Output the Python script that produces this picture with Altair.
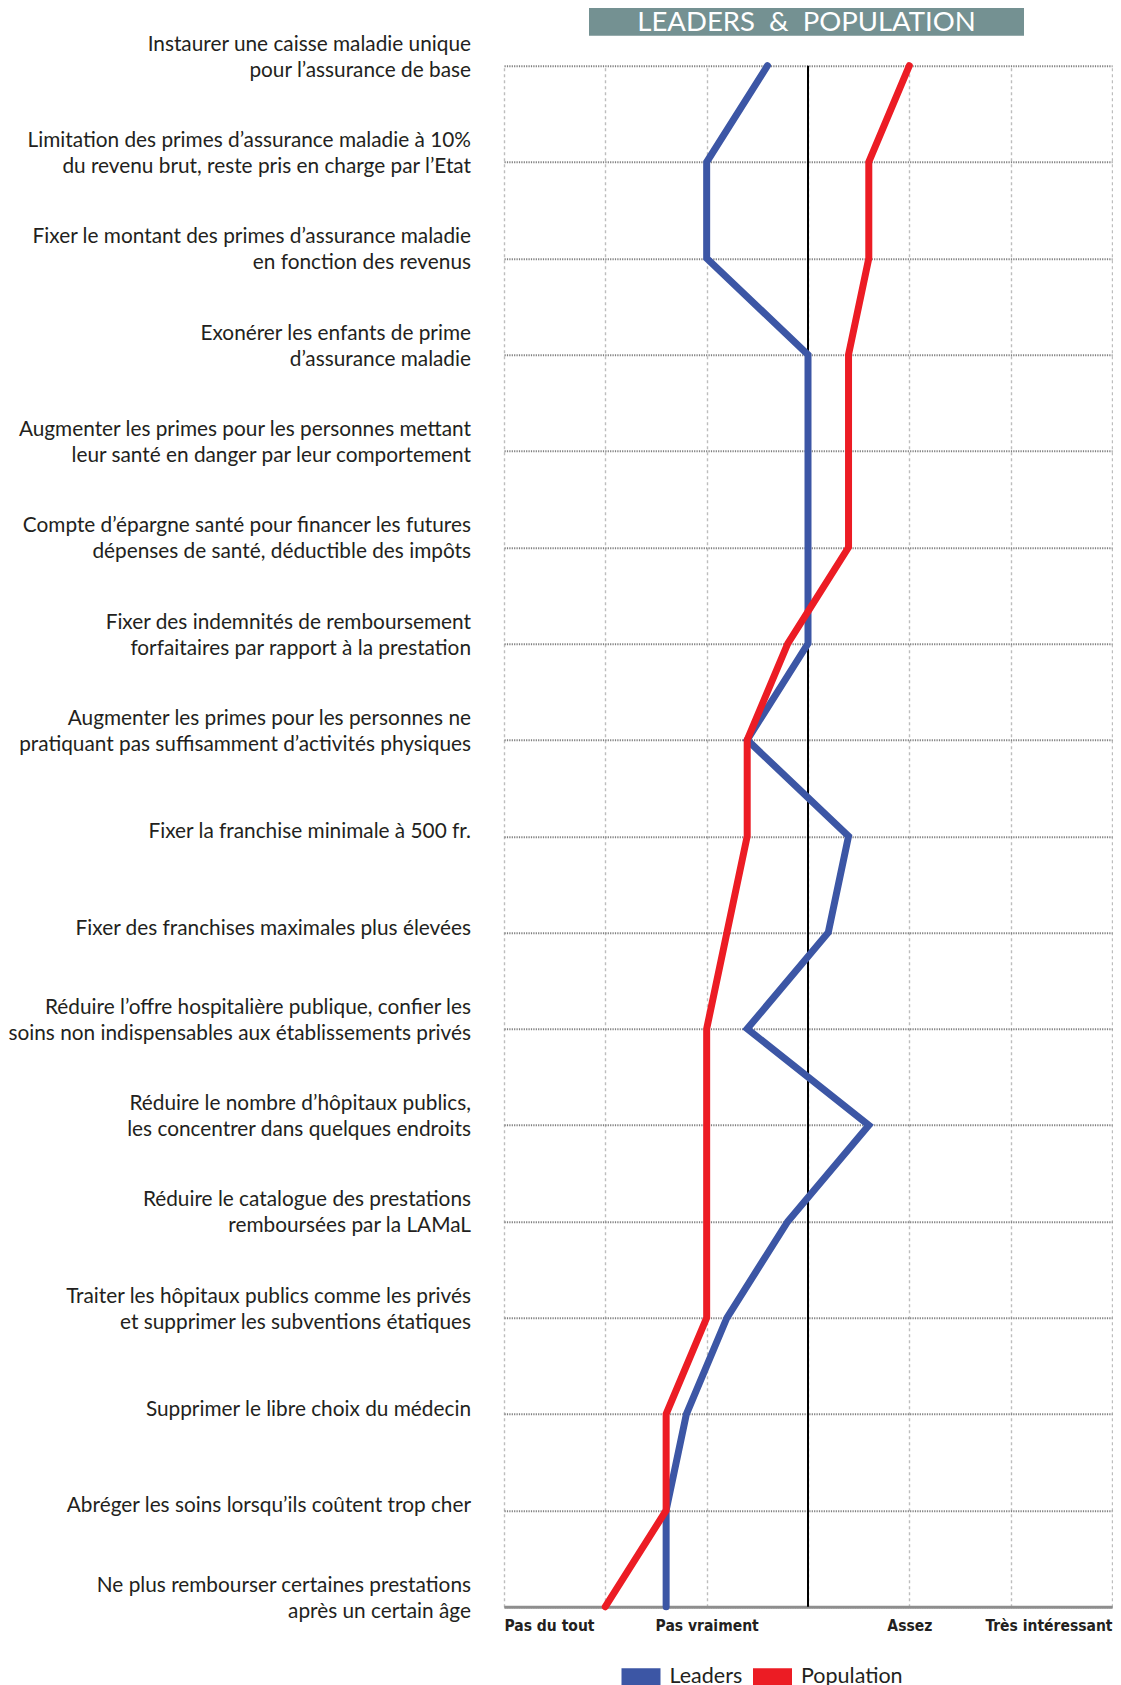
import altair as alt
import pandas as pd

# ---------------- data ----------------
ITEMS = [
    "Instaurer une caisse maladie unique\npour l’assurance de base",
    "Limitation des primes d’assurance maladie à 10%\ndu revenu brut, reste pris en charge par l’Etat",
    "Fixer le montant des primes d’assurance maladie\nen fonction des revenus",
    "Exonérer les enfants de prime\nd’assurance maladie",
    "Augmenter les primes pour les personnes mettant\nleur santé en danger par leur comportement",
    "Compte d’épargne santé pour financer les futures\ndépenses de santé, déductible des impôts",
    "Fixer des indemnités de remboursement\nforfaitaires par rapport à la prestation",
    "Augmenter les primes pour les personnes ne\npratiquant pas suffisamment d’activités physiques",
    "Fixer la franchise minimale à 500 fr.",
    "Fixer des franchises maximales plus élevées",
    "Réduire l’offre hospitalière publique, confier les\nsoins non indispensables aux établissements privés",
    "Réduire le nombre d’hôpitaux publics,\nles concentrer dans quelques endroits",
    "Réduire le catalogue des prestations\nremboursées par la LAMaL",
    "Traiter les hôpitaux publics comme les privés\net supprimer les subventions étatiques",
    "Supprimer le libre choix du médecin",
    "Abréger les soins lorsqu’ils coûtent trop cher",
    "Ne plus rembourser certaines prestations\naprès un certain âge",
]
LEADERS = [2.3, 2.0, 2.0, 2.5, 2.5, 2.5, 2.5, 2.2, 2.7, 2.6, 2.2, 2.8, 2.4, 2.1, 1.9, 1.8, 1.8]
POPULATION = [3.0, 2.8, 2.8, 2.7, 2.7, 2.7, 2.4, 2.2, 2.2, 2.1, 2.0, 2.0, 2.0, 2.0, 1.8, 1.8, 1.5]

SERIES = ["Leaders", "Population"]
SERIES_COLORS = ["#3c56a5", "#ec1c24"]

SCALE_VALUES = [1, 2, 3, 4]
SCALE_LABELS = ["Pas du tout", "Pas vraiment", "Assez", "Très intéressant"]
GRID_VALUES = [1, 1.5, 2, 2.5, 3, 3.5, 4]
MIDPOINT = 2.5
TITLE = "LEADERS\u00a0\u00a0&\u00a0\u00a0POPULATION"

# ---------------- tables ----------------
df = pd.DataFrame({
    "item": ITEMS,
    "idx": list(range(len(ITEMS))),
    "Leaders": LEADERS,
    "Population": POPULATION,
})
one = pd.DataFrame({"title": [TITLE], "mid": [MIDPOINT]})

label_expr = " : ".join(
    f"datum.value == {v} ? '{t}'" for v, t in zip(SCALE_VALUES, SCALE_LABELS)
) + " : ''"

x_scale = alt.Scale(domain=[SCALE_VALUES[0], SCALE_VALUES[-1]], nice=False, zero=False)
y_scale = alt.Scale(type="point", padding=0)

x_axis = alt.Axis(
    values=GRID_VALUES, labelExpr=label_expr, title=None,
    ticks=False, tickSize=0,
    domain=True, domainColor="#8e8e8e", domainWidth=3,
    grid=True, gridColor="#bdbdbd", gridDash=[3, 3], gridWidth=1.4,
    labelFont="DejaVu Sans Condensed, Roboto, sans-serif", labelFontWeight="bold",
    labelFontSize=15.5, labelColor="#231f20", labelBaseline="alphabetic",
    labelPadding=24, labelFlush=True,
)
y_axis = alt.Axis(
    labels=False, ticks=False, domain=False, title=None,
    grid=True, gridColor="#7f7f7f", gridDash=[1.2, 1.2], gridWidth=2,
)

base = alt.Chart(df)

mid_rule = alt.Chart(one).mark_rule(color="#000000", strokeWidth=2).encode(
    x=alt.X("mid:Q", scale=x_scale)
)

lines = base.transform_fold(SERIES, as_=["series", "score"]).mark_line(
    strokeWidth=7, strokeCap="round", strokeJoin="miter"
).encode(
    x=alt.X("score:Q", scale=x_scale, axis=x_axis),
    y=alt.Y("item:N", sort=ITEMS, scale=y_scale, axis=y_axis),
    color=alt.Color(
        "series:N",
        scale=alt.Scale(domain=SERIES, range=SERIES_COLORS),
        legend=alt.Legend(
            title=None, orient="none", direction="horizontal",
            legendX=109, legendY=1583, gridAlign="none",
            symbolType="stroke", symbolSize=1521, symbolStrokeWidth=17,
            labelFont="Lato", labelFontSize=21.5, labelColor="#231f20",
            labelOffset=0.5, columnPadding=-24.5,
        ),
    ),
    order=alt.Order("idx:Q"),
)

text_style = dict(
    align="right", baseline="alphabetic", lineBreak="\n", lineHeight=26,
    font="Lato", fontSize=20.8, color="#231f20",
)
labels_single = base.transform_filter(
    "indexof(datum.item, '\\n') < 0"
).mark_text(dy=2, **text_style).encode(
    x=alt.value(-33),
    y=alt.Y("item:N", sort=ITEMS, scale=y_scale),
    text="item:N",
)
labels_double = base.transform_filter(
    "indexof(datum.item, '\\n') >= 0"
).mark_text(dy=-15, **text_style).encode(
    x=alt.value(-33),
    y=alt.Y("item:N", sort=ITEMS, scale=y_scale),
    text="item:N",
)

banner = alt.Chart(one).mark_rect(color="#749192").encode(
    x=alt.value(85), x2=alt.value(520), y=alt.value(-61.7), y2=alt.value(-30)
)
banner_text = alt.Chart(one).mark_text(
    align="center", baseline="alphabetic", font="Lato", fontSize=27.5,
    color="#ffffff",
).encode(x=alt.value(302.5), y=alt.value(-35), text="title:N")

chart = alt.layer(
    mid_rule, lines, labels_single, labels_double, banner, banner_text
).properties(
    width=608, height=1541,
    autosize=alt.AutoSizeParams(type="none"),
    padding={"left": 496, "top": 57.7, "right": 1, "bottom": 78.3},
).configure_view(strokeWidth=0)

chart.save("out.html", embed_options={"renderer": "svg", "actions": False})
